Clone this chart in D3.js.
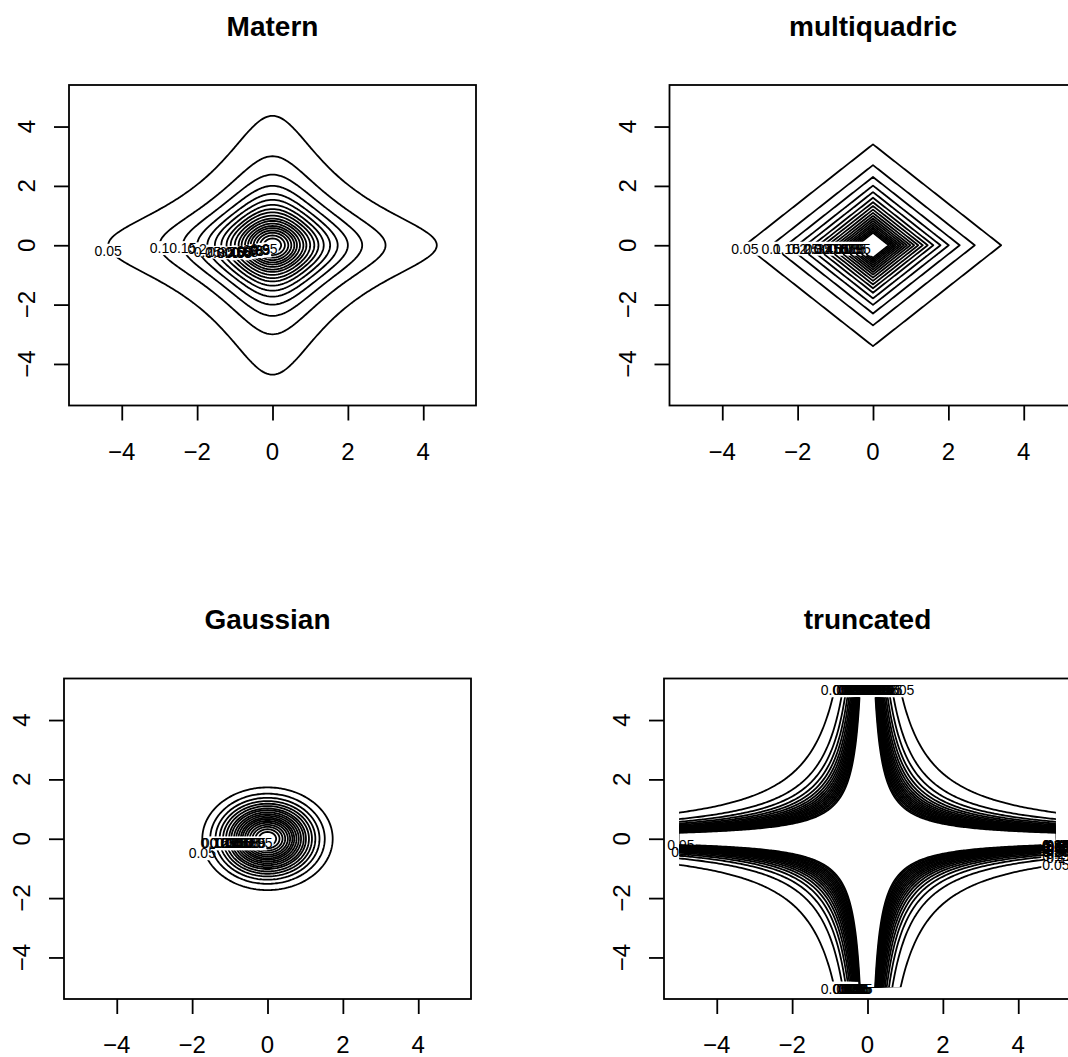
<!DOCTYPE html>
<html><head><meta charset="utf-8">
<script src="https://cdn.jsdelivr.net/npm/d3@7"></script>
<style>
body{margin:0;background:#fff}
text{font-family:"Liberation Sans",Arial,Helvetica,sans-serif;fill:#000}
</style>
</head><body>
<svg id="chart" width="1068" height="1057" xmlns="http://www.w3.org/2000/svg"></svg>
<script>
// ---------------- data ----------------
const levels = [0.05,0.1,0.15,0.2,0.25,0.3,0.35,0.4,0.45,0.5,0.55,0.6,0.65,0.7,0.75,0.8,0.85,0.9,0.95];
const levelText = ["0.05","0.1","0.15","0.2","0.25","0.3","0.35","0.4","0.45","0.5","0.55","0.6","0.65","0.7","0.75","0.8","0.85","0.9","0.95"];
// distance from the centre (along an axis) where each contour level crosses
const maternRadius       = [4.36,3.00,2.38,2.00,1.73,1.53,1.36,1.22,1.11,1.00,0.90,0.82,0.73,0.65,0.58,0.50,0.42,0.33,0.23];
const multiquadricRadius = [3.40,2.70,2.30,2.01,1.79,1.60,1.45,1.32,1.20,1.09,0.99,0.90,0.82,0.74,0.67,0.60,0.54,0.48,0.42];
const gaussianRadius     = [1.73,1.52,1.38,1.27,1.18,1.10,1.02,0.96,0.89,0.83,0.77,0.71,0.66,0.60,0.54,0.47,0.40,0.32,0.23];
// truncated: value of |x*y| on each contour level
const truncatedProduct   = [4.40,3.30,2.85,2.55,2.33,2.15,2.00,1.87,1.76,1.66,1.57,1.49,1.41,1.34,1.27,1.20,1.14,1.07,1.01];
const tickValues = [-4,-2,0,2,4];
const titles = ["Matern","multiquadric","Gaussian","truncated"];

// ---------------- geometry of the contour families ----------------
const maternCross = 0.65;
const shapes = {
  Matern:       (x,y) => Math.sqrt(x*x + y*y + maternCross*x*x*y*y),
  multiquadric: (x,y) => Math.abs(x) + Math.abs(y),
  Gaussian:     (x,y) => Math.sqrt(x*x + y*y),
  truncated:    (x,y) => Math.abs(x*y)
};
const radii = {Matern: maternRadius, multiquadric: multiquadricRadius, Gaussian: gaussianRadius, truncated: truncatedProduct};

// label anchor points (data coords) for every contour level
const maternLabelY = [-0.19,-0.10,-0.10,-0.14,-0.22,-0.26,-0.24,-0.28,-0.26,-0.24,-0.28,-0.26,-0.24,-0.22,-0.2,-0.2,-0.18,-0.16,-0.14];
function labelPoints(name, i){
  if(name==="Matern"){ return [[-maternRadius[i], maternLabelY[i]]]; }
  if(name==="multiquadric"){ return [[-multiquadricRadius[i], -0.12]]; }
  if(name==="Gaussian"){ return [[-gaussianRadius[i], i===0?-0.49:-0.16]]; }
  const s = truncatedProduct[i]/5;
  const pts = [[-s, 5.0],[s, 5.0],[5.0,-s]];
  if(i>=17) pts.push([-4.95, i===18?-0.22:-0.45]); else pts.push([-s,-5.05]);
  return pts;
}

const layout = [
  {x0:69,  x1:476,   y0:85,    y1:405.5},
  {x0:669.5,x1:1076.5,y0:85,   y1:405.5},
  {x0:64,  x1:471,   y0:678.5, y1:999},
  {x0:664, x1:1071,  y0:678.5, y1:999}
];

const gridMin=-5, gridMax=5, gridStep=0.05;
const n = Math.round((gridMax-gridMin)/gridStep)+1;

const svg = d3.select("#chart");
const defs = svg.append("defs");

titles.forEach((name, pi) => {
  const L = layout[pi];
  const sx = d3.scaleLinear().domain([-5.4,5.4]).range([L.x0, L.x1]);
  const sy = d3.scaleLinear().domain([-5.4,5.4]).range([L.y1, L.y0]);
  const g = svg.append("g");

  defs.append("clipPath").attr("id","clip"+pi).append("rect")
    .attr("x", sx(gridMin)).attr("y", sy(gridMax))
    .attr("width", sx(gridMax)-sx(gridMin)).attr("height", sy(gridMin)-sy(gridMax));

  const shape = shapes[name];
  const values = new Float64Array(n*n);
  for(let j=0;j<n;j++){ const y=gridMin+j*gridStep;
    for(let i=0;i<n;i++){ const x=gridMin+i*gridStep; values[j*n+i] = -shape(x,y); } }
  const contours = d3.contours().size([n,n]).thresholds(radii[name].map(r=>-r))(values);
  const toData = c => gridMin + (c-0.5)*gridStep;
  const path = d3.geoPath(d3.geoTransform({point(x,y){ this.stream.point(sx(toData(x)), sy(toData(y))); }}));

  const lineG = g.append("g").attr("clip-path","url(#clip"+pi+")");
  const labG = g.append("g");

  contours.forEach((c, li) => {
    const mask = defs.append("mask").attr("id",`m${pi}_${li}`)
      .attr("maskUnits","userSpaceOnUse").attr("x",0).attr("y",0).attr("width",1068).attr("height",1057);
    mask.append("rect").attr("x",0).attr("y",0).attr("width",1068).attr("height",1057).attr("fill","#fff");
    labelPoints(name, li).forEach(([lx,ly]) => {
      const t = labG.append("text").attr("x", sx(lx)).attr("y", sy(ly)).attr("dy","0.35em")
        .attr("text-anchor","middle").style("font-size","14px").text(levelText[li]);
      const bb = t.node().getBBox();
      mask.append("rect").attr("x",bb.x-1).attr("y",bb.y+1).attr("width",bb.width+2).attr("height",bb.height-2).attr("fill","#000");
    });
    lineG.append("path").attr("d", path(c)).attr("fill","none").attr("stroke","#000")
      .attr("stroke-width",1.8).attr("stroke-linejoin","round").attr("mask",`url(#m${pi}_${li})`);
  });

  g.append("rect").attr("x",L.x0).attr("y",L.y0).attr("width",L.x1-L.x0).attr("height",L.y1-L.y0)
    .attr("fill","none").attr("stroke","#000").attr("stroke-width",1.8);

  const xa = g.append("g").attr("transform",`translate(0,${L.y1})`)
    .call(d3.axisBottom(sx).tickValues(tickValues).tickSize(15).tickSizeOuter(0).tickFormat(""));
  xa.select(".domain").remove();
  xa.selectAll("line").attr("stroke","#000").attr("stroke-width",1.8);
  tickValues.forEach(v => g.append("text").attr("x",sx(v)).attr("y",L.y1+54)
    .attr("text-anchor","middle").style("font-size","24px").text(d3.format("")(v)));

  const ya = g.append("g").attr("transform",`translate(${L.x0},0)`)
    .call(d3.axisLeft(sy).tickValues(tickValues).tickSize(15).tickSizeOuter(0).tickFormat(""));
  ya.select(".domain").remove();
  ya.selectAll("line").attr("stroke","#000").attr("stroke-width",1.8);
  tickValues.forEach(v => g.append("text")
    .attr("transform",`translate(${L.x0-34},${sy(v)}) rotate(-90)`)
    .attr("text-anchor","middle").style("font-size","24px").text(d3.format("")(v)));

  g.append("text").attr("x",(L.x0+L.x1)/2).attr("y",L.y0-49.5).attr("text-anchor","middle")
    .style("font-size","28px").style("font-weight","bold").text(name);
});
</script>
</body></html>
